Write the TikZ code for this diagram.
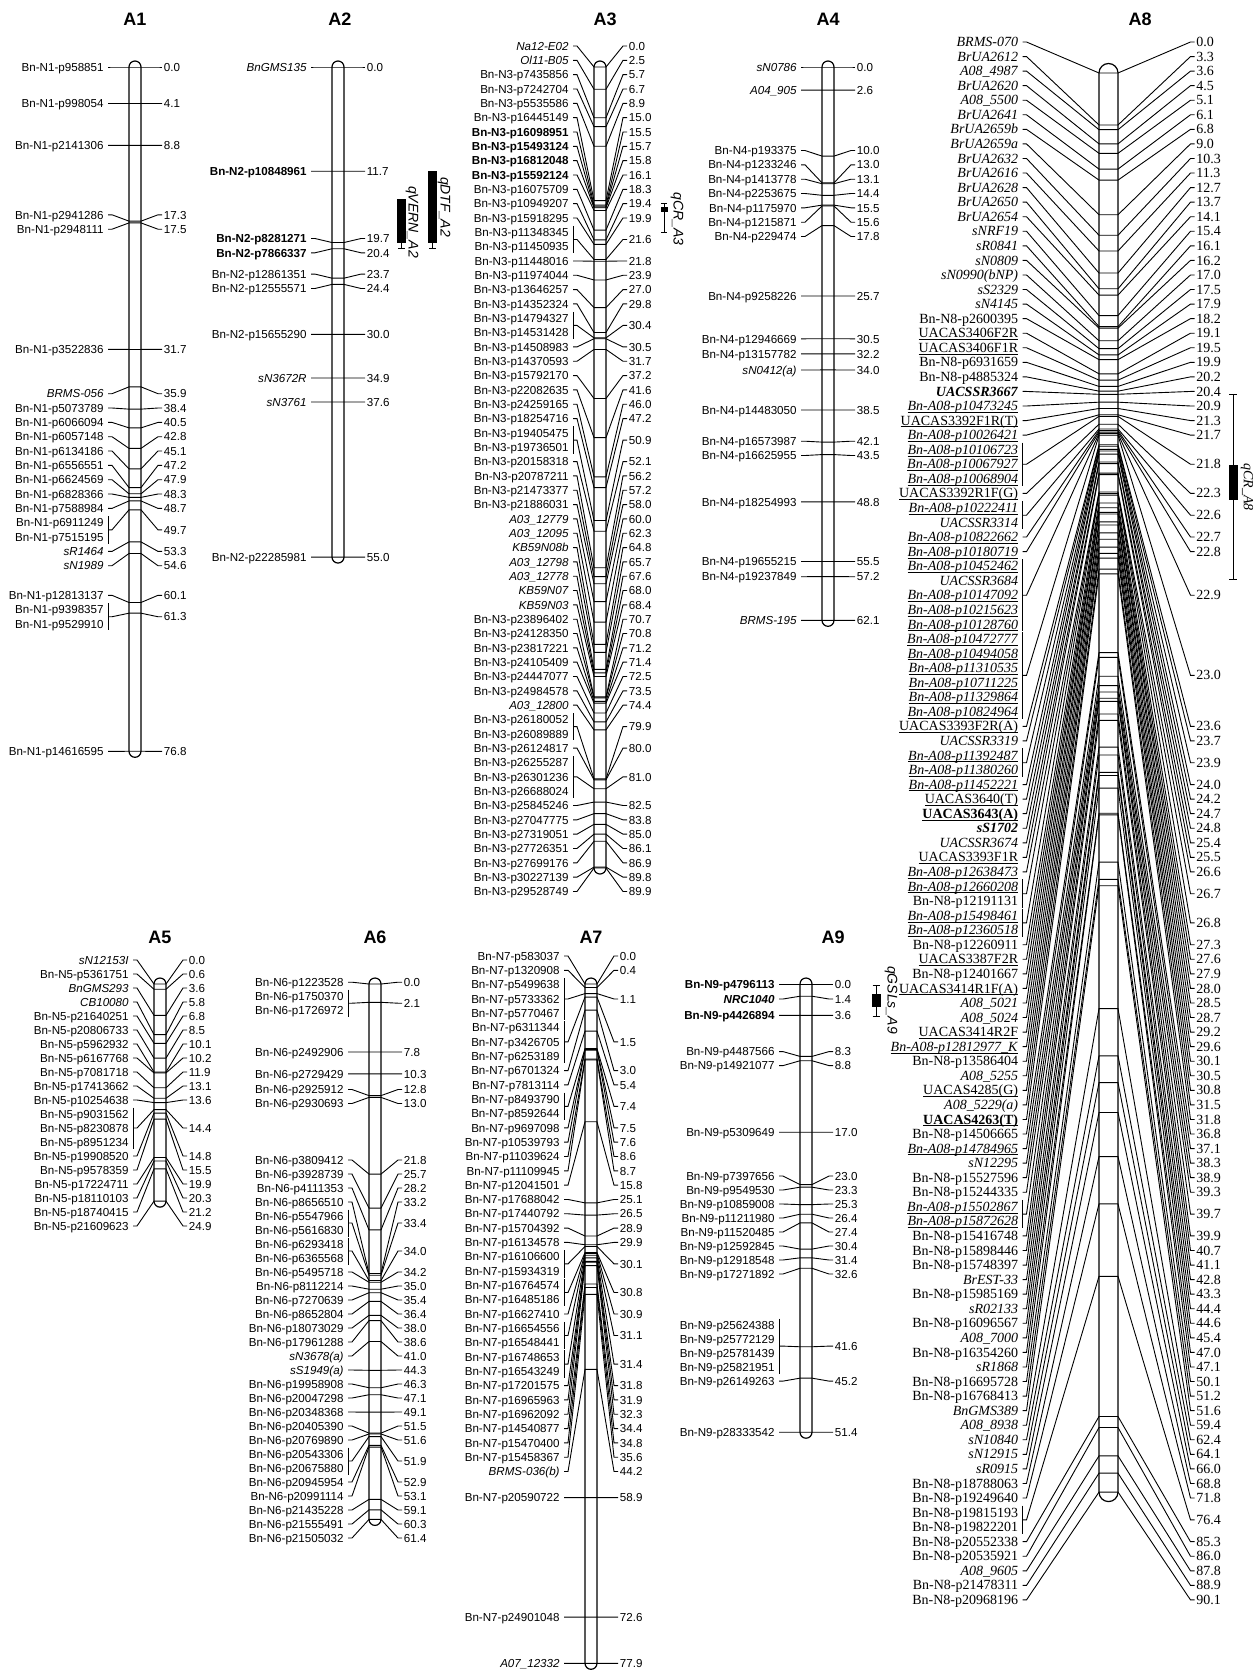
\documentclass[tikz,border=0pt]{standalone}
\usepackage{fontspec}
\setmainfont{Liberation Serif}
\setsansfont{Liberation Sans}
\usetikzlibrary{calc}
\newcommand\und[1]{\setbox0\hbox{#1}\rlap{\rule[-1pt]{\wd0}{0.35pt}}\box0}
% value labels, ticks and brackets of one linkage group
\newcommand\linkmarkers[2]{%
  \foreach \cmv/\ra/\rb [count=\j] in {#2} {
    \coordinate (#1s\j) at ($(#1n\ra.east)!0.5!(#1n\rb.east)+(4,0)$);
    \node[val] (#1v\j) at ($(#1s\j)+(2*\lo-6.5,0)$) {\cmv};
    \draw[lnk] (#1s\j) -- ++(4,0) -- (\cx-\hw,\yz+\cmv*\st) -- (\cx+\hw,\yz+\cmv*\st)
      -- ($(#1s\j)+(2*\lo-12,0)$) -- ($(#1v\j.west)+(-1.5,0)$);
    \ifnum\ra<\rb\relax
      \draw[lnk] ($(#1n\ra.east)+(4,-\bh)$) -- ($(#1n\rb.east)+(4,\bh)$);
    \fi
  }}
\begin{document}
\begin{tikzpicture}[x=0.5pt, y=-0.5pt,
  mk/.style={anchor=east, inner sep=0pt, text height=4.2pt, text depth=0pt, font=\sffamily\fontsize{5.8}{6}\selectfont},
  val/.style={anchor=west, inner sep=0pt, text height=4.2pt, text depth=0pt, font=\sffamily\fontsize{5.8}{6}\selectfont},
  lnk/.style={line width=0.45pt},
  chr/.style={draw, line width=0.6pt, fill=white, rounded corners=3pt},
  ttl/.style={font=\sffamily\bfseries\fontsize{9}{10}\selectfont},
  qlab/.style={rotate=-90, inner sep=0pt, font=\sffamily\itshape\fontsize{7}{8}\selectfont}]
\useasboundingbox (0,0) rectangle (1255,1675);
\def\hw{6}\def\lo{31}\def\bh{6.5}
\def\yz{67}\def\st{8.91}

% A1
\def\cx{135}
\node[ttl] (tA1) at (\cx,19) {A1};
\draw[chr] (\cx-\hw,\yz-\hw) rectangle (\cx+\hw,\yz+76.8*\st+\hw);
\foreach \ly/\nm [count=\i] in {67/Bn-N1-p958851, 103.5/Bn-N1-p998054, 145.4/Bn-N1-p2141306,
  214.8/Bn-N1-p2941286, 229.2/Bn-N1-p2948111, 349.4/Bn-N1-p3522836, 393.7/\textit{BRMS-056},
  408.0/Bn-N1-p5073789, 422.4/Bn-N1-p6066094, 436.7/Bn-N1-p6057148, 451.0/Bn-N1-p6134186,
  465.4/Bn-N1-p6556551, 479.7/Bn-N1-p6624569, 494.0/Bn-N1-p6828366, 508.4/Bn-N1-p7588984,
  522.7/Bn-N1-p6911249, 537.0/Bn-N1-p7515195, 551.4/\textit{sR1464}, 565.7/\textit{sN1989},
  595.3/Bn-N1-p12813137, 609.6/Bn-N1-p9398357, 623.9/Bn-N1-p9529910, 751.3/Bn-N1-p14616595}
  \node[mk] (A1n\i) at (\cx-\lo,\ly) {\nm};
\linkmarkers{A1}{0.0/1/1, 4.1/2/2, 8.8/3/3, 17.3/4/4, 17.5/5/5, 31.7/6/6, 35.9/7/7, 38.4/8/8,
  40.5/9/9, 42.8/10/10, 45.1/11/11, 47.2/12/12, 47.9/13/13, 48.3/14/14, 48.7/15/15, 49.7/16/17,
  53.3/18/18, 54.6/19/19, 60.1/20/20, 61.3/21/22, 76.8/23/23}

% A2
\def\cx{338}
\node[ttl] (tA2) at (340,19) {A2};
\draw[chr] (\cx-\hw,\yz-\hw) rectangle (\cx+\hw,\yz+55.0*\st+\hw);
\foreach \ly/\nm [count=\i] in {67/\textit{BnGMS135}, 171.2/\textbf{Bn-N2-p10848961},
  238.5/\textbf{Bn-N2-p8281271}, 252.8/\textbf{Bn-N2-p7866337}, 274.1/Bn-N2-p12861351,
  288.5/Bn-N2-p12555571, 334.3/Bn-N2-p15655290, 378.0/\textit{sN3672R}, 402.0/\textit{sN3761},
  557.1/Bn-N2-p22285981}
  \node[mk] (A2n\i) at (\cx-\lo,\ly) {\nm};
\linkmarkers{A2}{0.0/1/1, 11.7/2/2, 19.7/3/3, 20.4/4/4, 23.7/5/5, 24.4/6/6, 30.0/7/7, 34.9/8/8,
  37.6/9/9, 55.0/10/10}
\fill (397,198.9) rectangle (406,242.5);
\draw[lnk] (401.5,242.5) -- (401.5,248.8) (398,248.8) -- (405,248.8);
\node[qlab] (qA2a) at (412,222) {qVERN\_A2};
\fill (428,171.2) rectangle (437,242.5);
\draw[lnk] (432.5,242.5) -- (432.5,248.8) (429,248.8) -- (436,248.8);
\node[qlab] (qA2b) at (444,207) {qDTF\_A2};

% A3
\def\cx{600}
\node[ttl] (tA3) at (605,19) {A3};
\draw[chr] (\cx-\hw,\yz-\hw) rectangle (\cx+\hw,\yz+89.9*\st+\hw);
\foreach \nm [count=\i] in {\textit{Na12-E02}, \textit{Ol11-B05}, Bn-N3-p7435856, Bn-N3-p7242704,
  Bn-N3-p5535586, Bn-N3-p16445149, \textbf{Bn-N3-p16098951}, \textbf{Bn-N3-p15493124},
  \textbf{Bn-N3-p16812048}, \textbf{Bn-N3-p15592124}, Bn-N3-p16075709, Bn-N3-p10949207,
  Bn-N3-p15918295, Bn-N3-p11348345, Bn-N3-p11450935, Bn-N3-p11448016, Bn-N3-p11974044,
  Bn-N3-p13646257, Bn-N3-p14352324, Bn-N3-p14794327, Bn-N3-p14531428, Bn-N3-p14508983,
  Bn-N3-p14370593, Bn-N3-p15792170, Bn-N3-p22082635, Bn-N3-p24259165, Bn-N3-p18254716,
  Bn-N3-p19405475, Bn-N3-p19736501, Bn-N3-p20158318, Bn-N3-p20787211, Bn-N3-p21473377,
  Bn-N3-p21886031, \textit{A03\_12779}, \textit{A03\_12095}, \textit{KB59N08b}, \textit{A03\_12798},
  \textit{A03\_12778}, \textit{KB59N07}, \textit{KB59N03}, Bn-N3-p23896402, Bn-N3-p24128350,
  Bn-N3-p23817221, Bn-N3-p24105409, Bn-N3-p24447077, Bn-N3-p24984578, \textit{A03\_12800},
  Bn-N3-p26180052, Bn-N3-p26089889, Bn-N3-p26124817, Bn-N3-p26255287, Bn-N3-p26301236,
  Bn-N3-p26688024, Bn-N3-p25845246, Bn-N3-p27047775, Bn-N3-p27319051, Bn-N3-p27726351,
  Bn-N3-p27699176, Bn-N3-p30227139, Bn-N3-p29528749}
  \node[mk] (A3n\i) at (\cx-\lo,{46+(\i-1)*14.33}) {\nm};
\linkmarkers{A3}{0.0/1/1, 2.5/2/2, 5.7/3/3, 6.7/4/4, 8.9/5/5, 15.0/6/6, 15.5/7/7, 15.7/8/8,
  15.8/9/9, 16.1/10/10, 18.3/11/11, 19.4/12/12, 19.9/13/13, 21.6/14/15, 21.8/16/16, 23.9/17/17,
  27.0/18/18, 29.8/19/19, 30.4/20/21, 30.5/22/22, 31.7/23/23, 37.2/24/24, 41.6/25/25, 46.0/26/26,
  47.2/27/27, 50.9/28/29, 52.1/30/30, 56.2/31/31, 57.2/32/32, 58.0/33/33, 60.0/34/34, 62.3/35/35,
  64.8/36/36, 65.7/37/37, 67.6/38/38, 68.0/39/39, 68.4/40/40, 70.7/41/41, 70.8/42/42, 71.2/43/43,
  71.4/44/44, 72.5/45/45, 73.5/46/46, 74.4/47/47, 79.9/48/49, 80.0/50/50, 81.0/51/53, 82.5/54/54,
  83.8/55/55, 85.0/56/56, 86.1/57/57, 86.9/58/58, 89.8/59/59, 89.9/60/60}
\draw[lnk] (664,203.3) -- (664,232) (661,203.3) -- (667,203.3) (661,232) -- (667,232);
\fill (660.5,206.7) rectangle (668,212);
\node[qlab] (qA3) at (677,219) {qCR\_A3};

% A4
\def\cx{828}
\node[ttl] (tA4) at (\cx,19) {A4};
\draw[chr] (\cx-\hw,\yz-\hw) rectangle (\cx+\hw,\yz+62.1*\st+\hw);
\foreach \ly/\nm [count=\i] in {67/\textit{sN0786}, 90.2/\textit{A04\_905}, 150.5/Bn-N4-p193375,
  164.8/Bn-N4-p1233246, 179.2/Bn-N4-p1413778, 193.5/Bn-N4-p2253675, 207.8/Bn-N4-p1175970,
  222.2/Bn-N4-p1215871, 236.5/Bn-N4-p229474, 296.0/Bn-N4-p9258226, 338.8/Bn-N4-p12946669,
  353.9/Bn-N4-p13157782, 370.0/\textit{sN0412(a)}, 410.0/Bn-N4-p14483050, 441.2/Bn-N4-p16573987,
  455.5/Bn-N4-p16625955, 501.8/Bn-N4-p18254993, 561.5/Bn-N4-p19655215, 576.7/Bn-N4-p19237849,
  620.3/\textit{BRMS-195}}
  \node[mk] (A4n\i) at (\cx-\lo,\ly) {\nm};
\linkmarkers{A4}{0.0/1/1, 2.6/2/2, 10.0/3/3, 13.0/4/4, 13.1/5/5, 14.4/6/6, 15.5/7/7, 15.6/8/8,
  17.8/9/9, 25.7/10/10, 30.5/11/11, 32.2/12/12, 34.0/13/13, 38.5/14/14, 42.1/15/15, 43.5/16/16,
  48.8/17/17, 55.5/18/18, 57.2/19/19, 62.1/20/20}

% A8
\def\cx{1108.5}\def\yz{73}\def\st{15.75}
\begin{scope}[
  mk/.style={anchor=east, inner sep=0pt, text height=4.6pt, text depth=0pt, font=\rmfamily\fontsize{7}{7}\selectfont},
  val/.style={anchor=west, inner sep=0pt, text height=4.6pt, text depth=0pt, font=\rmfamily\fontsize{7}{7}\selectfont}]
\def\hw{9.5}\def\lo{90}\def\bh{7}
\node[ttl] (tA8) at (1140,19) {A8};
\draw[chr, rounded corners=4.75pt] (\cx-\hw,\yz-\hw) rectangle (\cx+\hw,\yz+90.1*\st+\hw);
\foreach \nm [count=\i] in {\textit{BRMS-070}, \textit{BrUA2612}, \textit{A08\_4987}, \textit{BrUA2620},
  \textit{A08\_5500}, \textit{BrUA2641}, \textit{BrUA2659b}, \textit{BrUA2659a}, \textit{BrUA2632},
  \textit{BrUA2616}, \textit{BrUA2628}, \textit{BrUA2650}, \textit{BrUA2654}, \textit{sNRF19},
  \textit{sR0841}, \textit{sN0809}, \textit{sN0990(bNP)}, \textit{sS2329}, \textit{sN4145},
  Bn-N8-p2600395, \und{UACAS3406F2R}, \und{UACAS3406F1R}, Bn-N8-p6931659, Bn-N8-p4885324,
  \textbf{\textit{UACSSR3667}}, \und{\textit{Bn-A08-p10473245}}, \und{UACAS3392F1R(T)},
  \und{\textit{Bn-A08-p10026421}}, \und{\textit{Bn-A08-p10106723}}, \und{\textit{Bn-A08-p10067927}},
  \und{\textit{Bn-A08-p10068904}}, \und{UACAS3392R1F(G)}, \und{\textit{Bn-A08-p10222411}},
  \textit{UACSSR3314}, \und{\textit{Bn-A08-p10822662}}, \und{\textit{Bn-A08-p10180719}},
  \und{\textit{Bn-A08-p10452462}}, \textit{UACSSR3684}, \und{\textit{Bn-A08-p10147092}},
  \und{\textit{Bn-A08-p10215623}}, \und{\textit{Bn-A08-p10128760}}, \und{\textit{Bn-A08-p10472777}},
  \und{\textit{Bn-A08-p10494058}}, \und{\textit{Bn-A08-p11310535}}, \und{\textit{Bn-A08-p10711225}},
  \und{\textit{Bn-A08-p11329864}}, \und{\textit{Bn-A08-p10824964}}, \und{UACAS3393F2R(A)},
  \textit{UACSSR3319}, \und{\textit{Bn-A08-p11392487}}, \und{\textit{Bn-A08-p11380260}},
  \und{\textit{Bn-A08-p11452221}}, \und{UACAS3640(T)}, \und{\textbf{UACAS3643(A)}},
  \textbf{\textit{sS1702}}, \textit{UACSSR3674}, \und{UACAS3393F1R}, \und{\textit{Bn-A08-p12638473}},
  \und{\textit{Bn-A08-p12660208}}, Bn-N8-p12191131, \und{\textit{Bn-A08-p15498461}},
  \und{\textit{Bn-A08-p12360518}}, Bn-N8-p12260911, \und{UACAS3387F2R}, Bn-N8-p12401667,
  \und{UACAS3414R1F(A)}, \textit{A08\_5021}, \textit{A08\_5024}, \und{UACAS3414R2F},
  \und{\textit{Bn-A08-p12812977\_K}}, Bn-N8-p13586404, \textit{A08\_5255}, \und{UACAS4285(G)},
  \textit{A08\_5229(a)}, \und{\textbf{UACAS4263(T)}}, Bn-N8-p14506665, \und{\textit{Bn-A08-p14784965}},
  \textit{sN12295}, Bn-N8-p15527596, Bn-N8-p15244335, \und{\textit{Bn-A08-p15502867}},
  \und{\textit{Bn-A08-p15872628}}, Bn-N8-p15416748, Bn-N8-p15898446, Bn-N8-p15748397,
  \textit{BrEST-33}, Bn-N8-p15985169, \textit{sR02133}, Bn-N8-p16096567, \textit{A08\_7000},
  Bn-N8-p16354260, \textit{sR1868}, Bn-N8-p16695728, Bn-N8-p16768413, \textit{BnGMS389},
  \textit{A08\_8938}, \textit{sN10840}, \textit{sN12915}, \textit{sR0915}, Bn-N8-p18788063,
  Bn-N8-p19249640, Bn-N8-p19815193, Bn-N8-p19822201, Bn-N8-p20552338, Bn-N8-p20535921,
  \textit{A08\_9605}, Bn-N8-p21478311, Bn-N8-p20968196}
  \node[mk] (A8n\i) at (\cx-\lo,{42+(\i-1)*14.56}) {\nm};
\linkmarkers{A8}{0.0/1/1, 3.3/2/2, 3.6/3/3, 4.5/4/4, 5.1/5/5, 6.1/6/6, 6.8/7/7, 9.0/8/8, 10.3/9/9,
  11.3/10/10, 12.7/11/11, 13.7/12/12, 14.1/13/13, 15.4/14/14, 16.1/15/15, 16.2/16/16, 17.0/17/17,
  17.5/18/18, 17.9/19/19, 18.2/20/20, 19.1/21/21, 19.5/22/22, 19.9/23/23, 20.2/24/24, 20.4/25/25,
  20.9/26/26, 21.3/27/27, 21.7/28/28, 21.8/29/31, 22.3/32/32, 22.6/33/34, 22.7/35/35, 22.8/36/36,
  22.9/37/41, 23.0/42/47, 23.6/48/48, 23.7/49/49, 23.9/50/51, 24.0/52/52, 24.2/53/53, 24.7/54/54,
  24.8/55/55, 25.4/56/56, 25.5/57/57, 26.6/58/58, 26.7/59/60, 26.8/61/62, 27.3/63/63, 27.6/64/64,
  27.9/65/65, 28.0/66/66, 28.5/67/67, 28.7/68/68, 29.2/69/69, 29.6/70/70, 30.1/71/71, 30.5/72/72,
  30.8/73/73, 31.5/74/74, 31.8/75/75, 36.8/76/76, 37.1/77/77, 38.3/78/78, 38.9/79/79, 39.3/80/80,
  39.7/81/82, 39.9/83/83, 40.7/84/84, 41.1/85/85, 42.8/86/86, 43.3/87/87, 44.4/88/88, 44.6/89/89,
  45.4/90/90, 47.0/91/91, 47.1/92/92, 50.1/93/93, 51.2/94/94, 51.6/95/95, 59.4/96/96, 62.4/97/97,
  64.1/98/98, 66.0/99/99, 68.8/100/100, 71.8/101/101, 76.4/102/103, 85.3/104/104, 86.0/105/105,
  87.8/106/106, 88.9/107/107, 90.1/108/108}
\draw[lnk] (1233,394.3) -- (1233,579) (1229,394.3) -- (1237,394.3) (1229,579) -- (1237,579);
\fill (1229,465) rectangle (1237.5,500);
\node[qlab, font=\rmfamily\itshape\fontsize{7}{8}\selectfont] (qA8) at (1247,487) {qCR\_A8};
\end{scope}

% bottom row
\def\yz{984}\def\st{8.72}

% A5
\def\cx{160}
\node[ttl] (tA5) at (\cx,937) {A5};
\draw[chr] (\cx-\hw,\yz-\hw) rectangle (\cx+\hw,\yz+24.9*\st+\hw);
\foreach \nm [count=\i] in {\textit{sN12153I}, Bn-N5-p5361751, \textit{BnGMS293}, \textit{CB10080},
  Bn-N5-p21640251, Bn-N5-p20806733, Bn-N5-p5962932, Bn-N5-p6167768, Bn-N5-p7081718,
  Bn-N5-p17413662, Bn-N5-p10254638, Bn-N5-p9031562, Bn-N5-p8230878, Bn-N5-p8951234,
  Bn-N5-p19908520, Bn-N5-p9578359, Bn-N5-p17224711, Bn-N5-p18110103, Bn-N5-p18740415,
  Bn-N5-p21609623}
  \node[mk] (A5n\i) at (\cx-\lo,{960+(\i-1)*14}) {\nm};
\linkmarkers{A5}{0.0/1/1, 0.6/2/2, 3.6/3/3, 5.8/4/4, 6.8/5/5, 8.5/6/6, 10.1/7/7, 10.2/8/8,
  11.9/9/9, 13.1/10/10, 13.6/11/11, 14.4/12/14, 14.8/15/15, 15.5/16/16, 19.9/17/17, 20.3/18/18,
  21.2/19/19, 24.9/20/20}

% A6
\def\cx{375}
\node[ttl] (tA6) at (\cx,937) {A6};
\draw[chr] (\cx-\hw,\yz-\hw) rectangle (\cx+\hw,\yz+61.4*\st+\hw);
\foreach \ly/\nm [count=\i] in {982.2/Bn-N6-p1223528, 996.2/Bn-N6-p1750370, 1010.2/Bn-N6-p1726972,
  1052.0/Bn-N6-p2492906, 1073.8/Bn-N6-p2729429, 1089.5/Bn-N6-p2925912, 1103.5/Bn-N6-p2930693}
  \node[mk] (A6n\i) at (\cx-\lo,\ly) {\nm};
\foreach \nm [count=\i from 8] in {Bn-N6-p3809412, Bn-N6-p3928739, Bn-N6-p4111353, Bn-N6-p8656510,
  Bn-N6-p5547966, Bn-N6-p5616830, Bn-N6-p6293418, Bn-N6-p6365568, Bn-N6-p5495718, Bn-N6-p8112214,
  Bn-N6-p7270639, Bn-N6-p8652804, Bn-N6-p18073029, Bn-N6-p17961288, \textit{sN3678(a)},
  \textit{sS1949(a)}, Bn-N6-p19958908, Bn-N6-p20047298, Bn-N6-p20348368, Bn-N6-p20405390,
  Bn-N6-p20769890, Bn-N6-p20543306, Bn-N6-p20675880, Bn-N6-p20945954, Bn-N6-p20991114,
  Bn-N6-p21435228, Bn-N6-p21555491, Bn-N6-p21505032}
  \node[mk] (A6n\i) at (\cx-\lo,{1160+(\i-8)*14}) {\nm};
\linkmarkers{A6}{0.0/1/1, 2.1/2/3, 7.8/4/4, 10.3/5/5, 12.8/6/6, 13.0/7/7, 21.8/8/8, 25.7/9/9,
  28.2/10/10, 33.2/11/11, 33.4/12/13, 34.0/14/15, 34.2/16/16, 35.0/17/17, 35.4/18/18, 36.4/19/19,
  38.0/20/20, 38.6/21/21, 41.0/22/22, 44.3/23/23, 46.3/24/24, 47.1/25/25, 49.1/26/26, 51.5/27/27,
  51.6/28/28, 51.9/29/30, 52.9/31/31, 53.1/32/32, 59.1/33/33, 60.3/34/34, 61.4/35/35}

% A7
\def\cx{591}
\node[ttl] (tA7) at (\cx,937) {A7};
\draw[chr] (\cx-\hw,\yz-\hw) rectangle (\cx+\hw,\yz+77.9*\st+\hw);
\foreach \nm [count=\i] in {Bn-N7-p583037, Bn-N7-p1320908, Bn-N7-p5499638, Bn-N7-p5733362,
  Bn-N7-p5770467, Bn-N7-p6311344, Bn-N7-p3426705, Bn-N7-p6253189, Bn-N7-p6701324, Bn-N7-p7813114,
  Bn-N7-p8493790, Bn-N7-p8592644, Bn-N7-p9697098, Bn-N7-p10539793, Bn-N7-p11039624,
  Bn-N7-p11109945, Bn-N7-p12041501, Bn-N7-p17688042, Bn-N7-p17440792, Bn-N7-p15704392,
  Bn-N7-p16134578, Bn-N7-p16106600, Bn-N7-p15934319, Bn-N7-p16764574, Bn-N7-p16485186,
  Bn-N7-p16627410, Bn-N7-p16654556, Bn-N7-p16548441, Bn-N7-p16748653, Bn-N7-p16543249,
  Bn-N7-p17201575, Bn-N7-p16965963, Bn-N7-p16962092, Bn-N7-p14540877, Bn-N7-p15470400,
  Bn-N7-p15458367, \textit{BRMS-036(b)}}
  \node[mk] (A7n\i) at (\cx-\lo,{956+(\i-1)*14.32}) {\nm};
\foreach \ly/\nm [count=\i from 38] in {1497.6/Bn-N7-p20590722, 1617.1/Bn-N7-p24901048,
  1663.3/\textit{A07\_12332}}
  \node[mk] (A7n\i) at (\cx-\lo,\ly) {\nm};
\linkmarkers{A7}{0.0/1/1, 0.4/2/2, 1.1/3/5, 1.5/6/8, 3.0/9/9, 5.4/10/10, 7.4/11/12, 7.5/13/13,
  7.6/14/14, 8.6/15/15, 8.7/16/16, 15.8/17/17, 25.1/18/18, 26.5/19/19, 28.9/20/20, 29.9/21/21,
  30.1/22/23, 30.8/24/25, 30.9/26/26, 31.1/27/28, 31.4/29/30, 31.8/31/31, 31.9/32/32, 32.3/33/33,
  34.4/34/34, 34.8/35/35, 35.6/36/36, 44.2/37/37, 58.9/38/38, 72.6/39/39, 77.9/40/40}

% A9
\def\cx{806}
\node[ttl] (tA9) at (833,937) {A9};
\draw[chr] (\cx-\hw,\yz-\hw) rectangle (\cx+\hw,\yz+51.4*\st+\hw);
\foreach \ly/\nm [count=\i] in {984/\textbf{Bn-N9-p4796113}, 999/\textbf{\textit{NRC1040}},
  1015.4/\textbf{Bn-N9-p4426894}, 1051.6/Bn-N9-p4487566, 1065.6/Bn-N9-p14921077,
  1132.2/Bn-N9-p5309649, 1176/Bn-N9-p7397656, 1190/Bn-N9-p9549530, 1204/Bn-N9-p10859008,
  1218/Bn-N9-p11211980, 1232/Bn-N9-p11520485, 1246/Bn-N9-p12592845, 1260/Bn-N9-p12918548,
  1274/Bn-N9-p17271892, 1325.1/Bn-N9-p25624388, 1339.1/Bn-N9-p25772129, 1353.1/Bn-N9-p25781439,
  1367.1/Bn-N9-p25821951, 1381.1/Bn-N9-p26149263, 1432.2/Bn-N9-p28333542}
  \node[mk] (A9n\i) at (\cx-\lo,\ly) {\nm};
\linkmarkers{A9}{0.0/1/1, 1.4/2/2, 3.6/3/3, 8.3/4/4, 8.8/5/5, 17.0/6/6, 23.0/7/7, 23.3/8/8,
  25.3/9/9, 26.4/10/10, 27.4/11/11, 30.4/12/12, 31.4/13/13, 32.6/14/14, 41.6/15/18, 45.2/19/19,
  51.4/20/20}
\draw[lnk] (876,985) -- (876,1016.7) (872.5,985) -- (879.5,985) (872.5,1016.7) -- (879.5,1016.7);
\fill (872,994) rectangle (881,1007.3);
\node[qlab] (qA9) at (891,1000) {qGSLs\_A9};
\end{tikzpicture}
\end{document}
